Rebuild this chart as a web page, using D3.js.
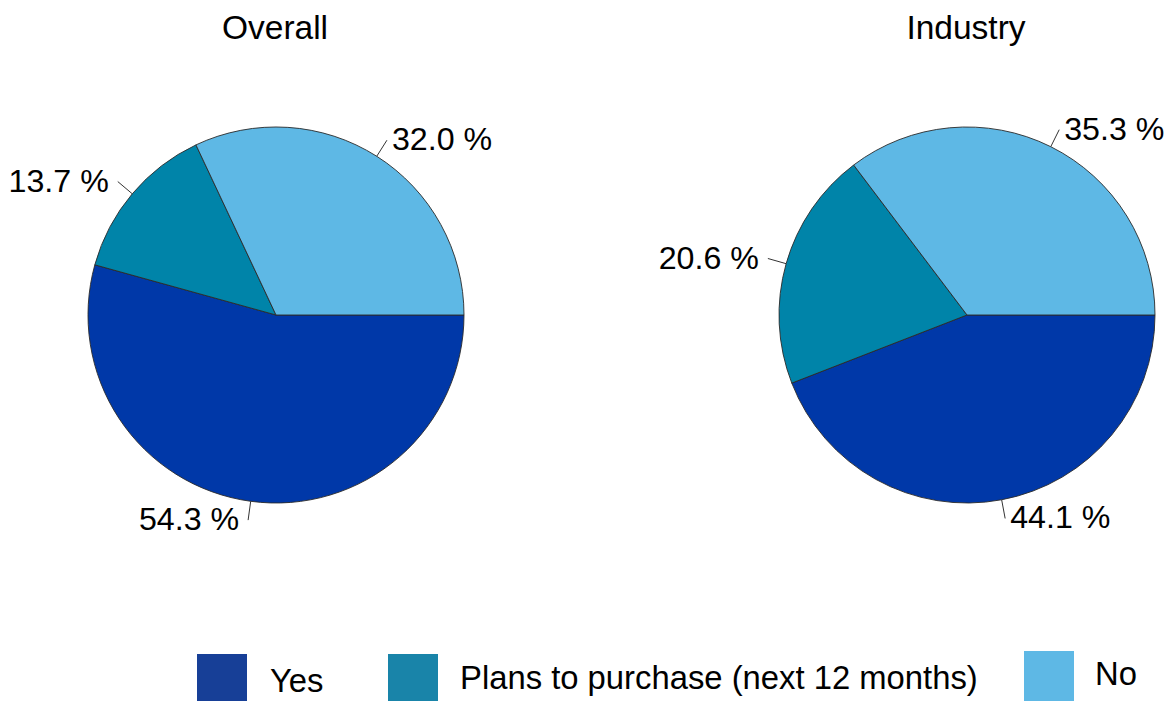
<!DOCTYPE html>
<html><head><meta charset="utf-8">
<script src="https://cdn.jsdelivr.net/npm/d3@7"></script>
<style>html,body{margin:0;padding:0;background:#fff;overflow:hidden}svg{display:block}text{font-family:"Liberation Sans",Arial,sans-serif;fill:#000}</style>
</head><body>
<script>
const categories = ["Yes", "Plans to purchase (next 12 months)", "No"];
const panelTitles = ["Overall", "Industry"];
const overallValues = [54.3, 13.7, 32.0];
const industryValues = [44.1, 20.6, 35.3];
const pieColors = ["#0038A8", "#0084A9", "#5EB8E5"];
const legendColors = ["#173F97", "#1984A9", "#5EB8E5"];

const W = 1173, H = 701;
const svg = d3.select("body").append("svg").attr("width", W).attr("height", H);

const R = 188;
const panels = [
  {title: panelTitles[0], values: overallValues, cx: 276, cy: 315},
  {title: panelTitles[1], values: industryValues, cx: 967, cy: 315}
];

const pie = d3.pie().sort(null).value(d => d.v)
  .startAngle(Math.PI / 2).endAngle(Math.PI / 2 + 2 * Math.PI);
const arc = d3.arc().innerRadius(0).outerRadius(R);

panels.forEach(p => {
  const g = svg.append("g").attr("transform", `translate(${p.cx},${p.cy})`);
  const data = pie(p.values.map((v, i) => ({v, i})));
  g.selectAll("path").data(data).join("path")
    .attr("d", arc)
    .attr("fill", d => pieColors[d.data.i])
    .attr("stroke", "#2a2a2a").attr("stroke-width", 0.9);
  data.forEach(d => {
    const a = (d.startAngle + d.endAngle) / 2;
    const sx = Math.sin(a), sy = -Math.cos(a);
    const x1 = sx * R, y1 = sy * R, x2 = sx * (R + 19), y2 = sy * (R + 19);
    g.append("line").attr("x1", x1).attr("y1", y1).attr("x2", x2).attr("y2", y2)
      .attr("stroke", "#333").attr("stroke-width", 1);
    const right = sx >= 0;
    g.append("text")
      .attr("x", x2 + (right ? 5 : -9))
      .attr("y", y2 - 1)
      .attr("dominant-baseline", "central")
      .attr("text-anchor", right ? "start" : "end")
      .attr("font-size", 32.2)
      .text(d3.format(".1f")(d.data.v) + " %");
  });
  svg.append("text").attr("x", p.cx - 1).attr("y", 39)
    .attr("text-anchor", "middle").attr("font-size", 33.5).text(p.title);
});

// legend
const legendItems = [
  {sx: 197, sy: 654, tx: 270, ty: 692},
  {sx: 388, sy: 654, tx: 460, ty: 689},
  {sx: 1024, sy: 651, tx: 1095, ty: 685}
];
legendItems.forEach((l, i) => {
  svg.append("rect").attr("x", l.sx).attr("y", l.sy).attr("width", 50).attr("height", 50)
    .attr("fill", legendColors[i]);
  svg.append("text").attr("x", l.tx).attr("y", l.ty).attr("font-size", 32.8).text(categories[i]);
});
</script>
</body></html>
